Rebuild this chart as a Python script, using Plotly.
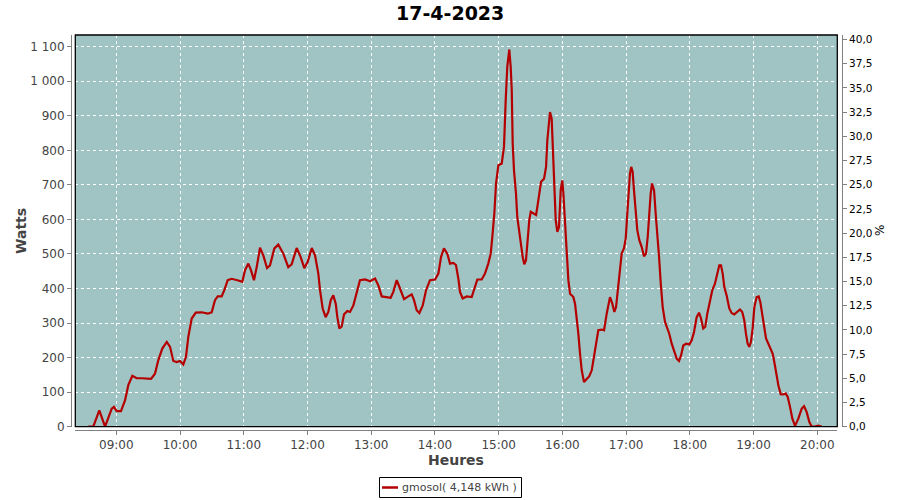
import plotly.graph_objects as go

DAY = "2023-04-17"
TITLE = "17-4-2023"
SERIES_NAME = "gmosol( 4,148 kWh )"
X_TITLE = "Heures"
Y_TITLE = "Watts"
Y2_TITLE = "%"

times = [
    "08:33:36", "08:38:18", "08:44:00", "08:49:24", "08:55:42", "08:57:48", "09:00:24", "09:04:24",
    "09:08:12", "09:11:18", "09:15:06", "09:19:12", "09:23:54", "09:28:36", "09:32:42", "09:36:24",
    "09:39:30", "09:43:18", "09:47:30", "09:50:36", "09:53:42", "09:56:54", "10:00:00", "10:03:06",
    "10:05:36", "10:07:48", "10:11:00", "10:14:48", "10:20:24", "10:26:06", "10:29:48", "10:32:54",
    "10:35:30", "10:39:12", "10:41:42", "10:44:54", "10:48:36", "10:54:54", "10:58:36", "11:01:12",
    "11:04:18", "11:06:48", "11:09:36", "11:12:12", "11:15:18", "11:18:24", "11:21:54", "11:24:42",
    "11:28:48", "11:32:30", "11:37:12", "11:41:54", "11:45:06", "11:49:48", "11:53:36", "11:57:00",
    "12:00:12", "12:04:00", "12:07:06", "12:10:12", "12:11:48", "12:14:18", "12:17:06", "12:19:36",
    "12:21:54", "12:24:18", "12:26:36", "12:28:06", "12:30:00", "12:32:12", "12:34:24", "12:37:30",
    "12:40:00", "12:43:12", "12:46:18", "12:49:24", "12:54:12", "12:58:54", "13:03:36", "13:06:42",
    "13:09:54", "13:14:36", "13:18:18", "13:20:48", "13:24:00", "13:27:06", "13:30:54", "13:34:54",
    "13:38:06", "13:40:18", "13:42:48", "13:45:18", "13:48:30", "13:51:36", "13:55:18", "14:00:06",
    "14:03:12", "14:05:42", "14:08:30", "14:11:36", "14:14:12", "14:17:18", "14:19:48", "14:22:00",
    "14:23:36", "14:26:06", "14:29:54", "14:34:36", "14:37:06", "14:39:54", "14:44:00", "14:47:06",
    "14:50:12", "14:52:30", "14:54:00", "14:55:54", "14:57:30", "14:59:42", "15:02:54", "15:05:00",
    "15:06:36", "15:08:06", "15:10:00", "15:11:18", "15:12:18", "15:13:12", "15:14:24", "15:16:18",
    "15:17:30", "15:19:24", "15:21:00", "15:22:36", "15:24:06", "15:25:42", "15:27:00", "15:28:48",
    "15:30:12", "15:33:18", "15:35:12", "15:36:24", "15:38:18", "15:39:54", "15:42:42", "15:44:36",
    "15:45:48", "15:47:06", "15:48:18", "15:49:54", "15:50:54", "15:52:24", "15:53:42", "15:55:12",
    "15:56:48", "15:58:24", "15:59:54", "16:00:54", "16:02:30", "16:04:06", "16:05:36", "16:07:12",
    "16:10:18", "16:11:54", "16:13:30", "16:15:00", "16:16:36", "16:18:12", "16:20:18", "16:22:54",
    "16:25:18", "16:27:36", "16:29:42", "16:31:36", "16:33:48", "16:37:00", "16:39:12", "16:41:42",
    "16:44:48", "16:47:00", "16:48:54", "16:50:30", "16:52:06", "16:53:36", "16:55:48", "16:58:00",
    "16:59:36", "17:01:06", "17:02:24", "17:03:36", "17:04:48", "17:06:06", "17:07:24", "17:09:00",
    "17:10:30", "17:12:24", "17:14:42", "17:16:48", "17:18:42", "17:20:18", "17:21:30", "17:23:06",
    "17:24:24", "17:26:18", "17:27:48", "17:29:24", "17:31:00", "17:32:36", "17:34:24", "17:36:36",
    "17:38:48", "17:40:36", "17:42:54", "17:45:24", "17:47:36", "17:49:48", "17:51:42", "17:53:48",
    "17:56:24", "17:59:30", "18:01:42", "18:03:54", "18:06:24", "18:08:36", "18:10:30", "18:12:36",
    "18:14:30", "18:16:24", "18:18:54", "18:21:06", "18:23:36", "18:25:48", "18:27:42", "18:29:18",
    "18:30:54", "18:32:24", "18:34:36", "18:37:06", "18:39:18", "18:41:48", "18:44:36", "18:47:12",
    "18:49:18", "18:51:12", "18:52:48", "18:54:24", "18:55:54", "18:57:30", "18:59:06", "19:00:42",
    "19:02:54", "19:04:48", "19:06:18", "19:07:54", "19:09:48", "19:11:42", "19:13:54", "19:16:06",
    "19:18:00", "19:19:30", "19:21:06", "19:23:18", "19:25:30", "19:28:00", "19:30:12", "19:32:06",
    "19:34:18", "19:36:30", "19:39:00", "19:42:06", "19:45:18", "19:47:30", "19:50:00", "19:52:30",
    "19:54:42", "19:57:36", "20:00:54", "20:04:06",
]

watts = [
    0, 0, 47, 0, 52, 57, 45, 45,
    76, 120, 147, 140, 140, 140, 138, 153,
    192, 226, 245, 231, 190, 187, 190, 180,
    202, 260, 313, 330, 331, 327, 331, 366,
    377, 377, 395, 424, 428, 423, 419, 453,
    472, 453, 424, 462, 518, 496, 459, 467,
    516, 527, 501, 462, 470, 517, 491, 459,
    477, 517, 496, 443, 395, 342, 317, 332,
    366, 380, 356, 317, 284, 290, 325, 335,
    332, 351, 390, 424, 426, 421, 429, 409,
    377, 375, 373, 390, 424, 400, 369, 377,
    383, 366, 337, 329, 351, 395, 424, 426,
    443, 491, 516, 501, 472, 474, 468, 429,
    390, 371, 377, 375, 400, 426, 426, 443,
    472, 501, 549, 617, 704, 757, 762, 810,
    945, 1042, 1092, 1042, 974, 820, 742, 675,
    607, 559, 530, 491, 470, 482, 530, 598,
    622, 615, 613, 636, 675, 709, 718, 752,
    829, 887, 911, 892, 820, 713, 598, 564,
    578, 685, 713, 675, 578, 511, 424, 385,
    375, 356, 317, 269, 211, 163, 129, 139,
    146, 163, 202, 240, 279, 281, 279, 327,
    375, 356, 332, 346, 395, 448, 501, 517,
    545, 617, 684, 733, 752, 738, 684, 627,
    569, 540, 520, 493, 501, 549, 617, 675,
    704, 684, 617, 559, 491, 414, 346, 303,
    284, 269, 240, 216, 197, 190, 206, 235,
    240, 238, 250, 274, 317, 330, 313, 284,
    289, 327, 361, 395, 414, 443, 467, 467,
    443, 404, 380, 342, 329, 325, 332, 339,
    332, 308, 269, 240, 231, 245, 284, 346,
    375, 377, 361, 327, 284, 255, 240, 226,
    211, 187, 154, 120, 94, 93, 96, 86,
    57, 23, 2, 23, 52, 59, 42, 13,
    0, 0, 3, 0,
]

hour_ticks = ["09:00", "10:00", "11:00", "12:00", "13:00", "14:00",
              "15:00", "16:00", "17:00", "18:00", "19:00", "20:00"]
x_start = "08:21:24"
x_end = "20:18:48"
watts_max = 1134
pct_max = 40.47

x = [f"{DAY} {t}" for t in times]

LINE_COLOR = "#b40000"
BG = "#9fc4c3"
GREY = "#808080"
TXT = "#444444"
FONT = "DejaVu Sans"

# Page body margin is removed by a post script, so positions are window pixels.
W, H = 900, 500
ml, mt = 71, 35
pw, ph = 771, 395
mr = W - ml - pw
mb = H - mt - ph


def px_x(p):
    return (p - ml) / pw


def px_y(p):
    return (mt + ph - p) / ph


fig = go.Figure()
fig.add_trace(go.Scatter(
    x=x, y=watts, mode="lines", name=SERIES_NAME,
    line=dict(color=LINE_COLOR, width=2.2), showlegend=False,
    hoverinfo="skip",
))

fig.update_layout(
    width=W, height=H,
    margin=dict(l=ml, r=mr, t=mt, b=mb, pad=0, autoexpand=False),
    paper_bgcolor="white",
    plot_bgcolor=BG,
    separators=", ",
    hovermode=False,
    font=dict(family=FONT, color=TXT, size=12),
    xaxis=dict(
        type="date",
        domain=[px_x(75.3), px_x(837.3)],
        range=[f"{DAY} {x_start}", f"{DAY} {x_end}"],
        tickvals=[f"{DAY} {t}" for t in hour_ticks],
        ticktext=hour_ticks,
        showgrid=True, gridcolor="white", griddash="dot", gridwidth=1,
        showline=True, linecolor=GREY, linewidth=1,
        anchor="free", position=0,
        ticks="outside", ticklen=4, tickcolor=GREY,
        tickfont=dict(size=12, color=TXT, family=FONT),
        zeroline=False, automargin=False,
    ),
    yaxis=dict(
        domain=[px_y(426.6), px_y(35)],
        range=[0, watts_max],
        dtick=100, tick0=0, tickformat=",",
        showgrid=True, gridcolor="white", griddash="dot", gridwidth=1,
        showline=True, linecolor=GREY, linewidth=1,
        anchor="free", position=0,
        ticks="outside", ticklen=4, tickcolor=GREY,
        tickfont=dict(size=12, color=TXT, family=FONT),
        zeroline=False, automargin=False,
    ),
    yaxis2=dict(
        overlaying="y", side="right",
        range=[0, pct_max],
        dtick=2.5, tick0=0, tickformat=".1f",
        showgrid=False,
        showline=True, linecolor=GREY, linewidth=1,
        anchor="free", position=1,
        ticks="outside", ticklen=4, tickcolor=GREY,
        tickfont=dict(size=10.5, color="black", family=FONT),
        zeroline=False, automargin=False,
    ),
)

# Empty trace so that the secondary axis is rendered
fig.add_trace(go.Scatter(x=[], y=[], yaxis="y2", showlegend=False))

# plot border
fig.add_shape(type="rect", xref="x domain", yref="y domain", x0=0, x1=1, y0=0, y1=1,
              line=dict(color="black", width=1.3), fillcolor="rgba(0,0,0,0)", layer="above")

# title
fig.add_annotation(text=f"<b>{TITLE}</b>", xref="paper", yref="paper",
                   x=px_x(450), y=px_y(13.5), showarrow=False,
                   font=dict(size=19, color="black", family=FONT), xanchor="center", yanchor="middle")

# axis titles
fig.add_annotation(text=f"<b>{Y_TITLE}</b>", xref="paper", yref="paper",
                   x=px_x(21), y=px_y(231), textangle=-90, showarrow=False,
                   font=dict(size=14, color=TXT, family=FONT), xanchor="center", yanchor="middle")
fig.add_annotation(text=f"<b>{X_TITLE}</b>", xref="paper", yref="paper",
                   x=px_x(456), y=px_y(460), showarrow=False,
                   font=dict(size=14, color=TXT, family=FONT), xanchor="center", yanchor="middle")
fig.add_annotation(text=Y2_TITLE, xref="paper", yref="paper",
                   x=px_x(880), y=px_y(231), textangle=-90, showarrow=False,
                   font=dict(size=12, color="black", family=FONT), xanchor="center", yanchor="middle")

# manual legend
fig.add_shape(type="rect", xref="paper", yref="paper",
              x0=px_x(379.5), x1=px_x(521.5), y0=px_y(497.5), y1=px_y(477.5),
              line=dict(color="black", width=1), fillcolor="white")
fig.add_shape(type="line", xref="paper", yref="paper",
              x0=px_x(382), x1=px_x(398), y0=px_y(487.5), y1=px_y(487.5),
              line=dict(color=LINE_COLOR, width=2.5))
fig.add_annotation(text=SERIES_NAME, xref="paper", yref="paper",
                   x=px_x(400), y=px_y(488), showarrow=False, xanchor="left", yanchor="middle",
                   font=dict(size=11, color=TXT, family=FONT))

fig.write_html(
    "out.html",
    config={"displayModeBar": False, "staticPlot": True},
    post_script="document.body.style.margin='0';document.body.style.overflow='hidden';",
)
